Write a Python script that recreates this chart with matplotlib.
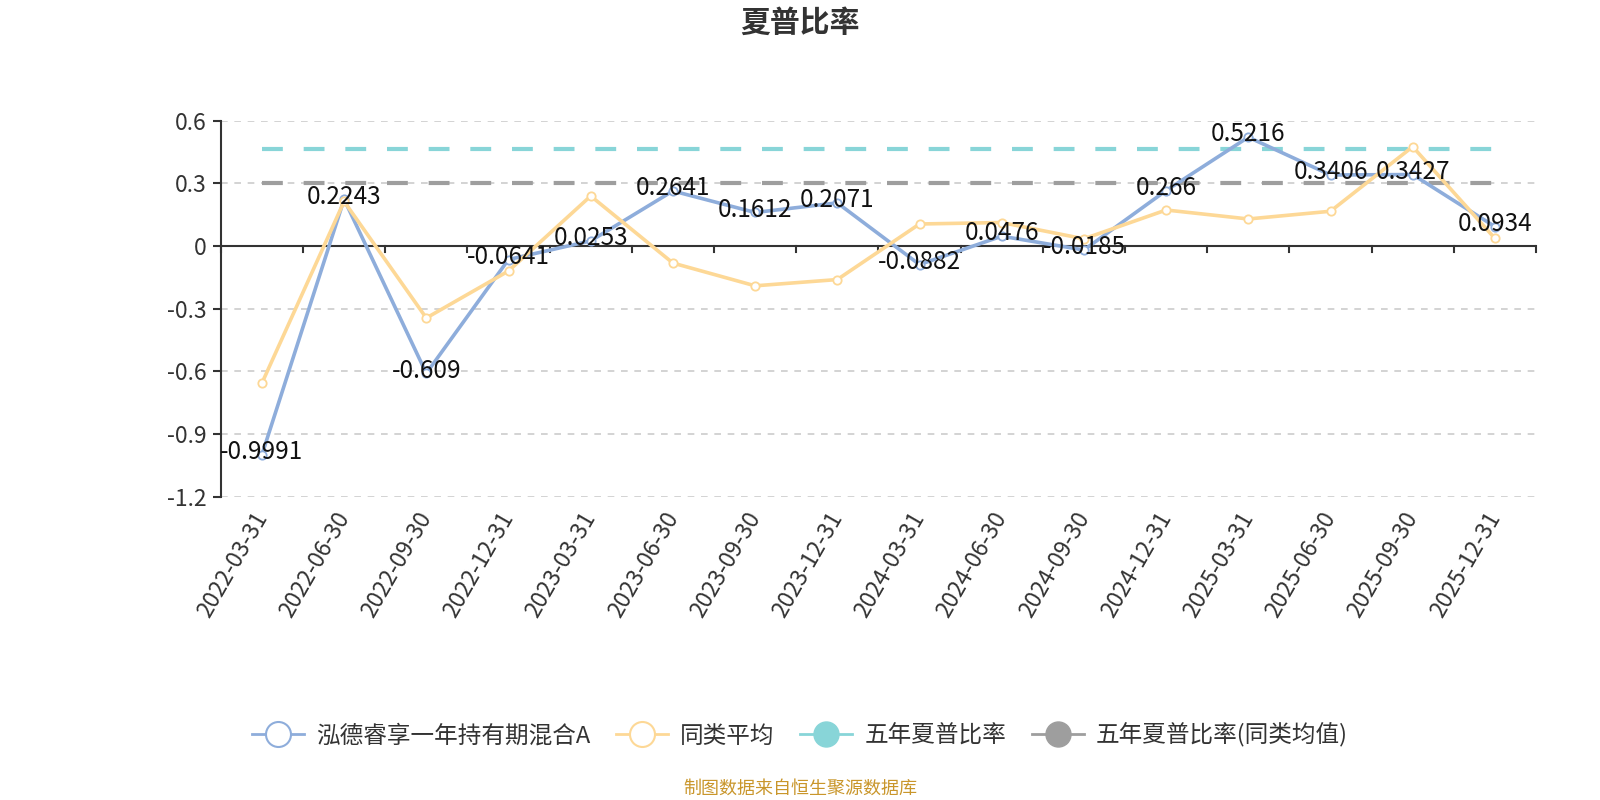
import numpy as np
import matplotlib.pyplot as plt
from matplotlib.lines import Line2D

plt.rcParams['font.family'] = ['Noto Sans CJK SC', 'DejaVu Sans']
plt.rcParams['axes.unicode_minus'] = False

# data
dates = ['2022-03-31', '2022-06-30', '2022-09-30', '2022-12-31',
         '2023-03-31', '2023-06-30', '2023-09-30', '2023-12-31',
         '2024-03-31', '2024-06-30', '2024-09-30', '2024-12-31',
         '2025-03-31', '2025-06-30', '2025-09-30', '2025-12-31']
fund = [-0.9991, 0.2243, -0.609, -0.0641, 0.0253, 0.2641, 0.1612, 0.2071,
        -0.0882, 0.0476, -0.0185, 0.266, 0.5216, 0.3406, 0.3427, 0.0934]
peer_avg = [-0.656, 0.214, -0.344, -0.119, 0.240, -0.081, -0.190, -0.160,
            0.106, 0.113, 0.035, 0.173, 0.130, 0.167, 0.476, 0.037]
five_year = 0.465
five_year_peer = 0.30
yticks = [-1.2, -0.9, -0.6, -0.3, 0, 0.3, 0.6]
ytick_labels = ['-1.2', '-0.9', '-0.6', '-0.3', '0', '0.3', '0.6']

names = ['泓德睿享一年持有期混合A', '同类平均', '五年夏普比率', '五年夏普比率(同类均值)']
c_fund = '#8eaddb'
c_peer = '#fdd896'
c_five = '#88d5d8'
c_five_peer = '#9e9e9e'

fig = plt.figure(figsize=(16, 8), dpi=100)
ax = fig.add_axes([0.138, 0.379, 0.822, 0.470])

x = np.arange(len(dates))
ax.set_xlim(-0.5, len(dates) - 0.5)
ax.set_ylim(-1.2, 0.6)

# grid
for v in yticks:
    if v != 0:
        ax.axhline(v, color='#cccccc', linestyle=(0, (4, 4)), linewidth=1.2, zorder=0)

# five year lines
ax.plot([x[0], x[-1]], [five_year, five_year], color=c_five, linestyle=(0, (5, 5)), linewidth=3, zorder=2)
ax.plot([x[0], x[-1]], [five_year_peer, five_year_peer], color=c_five_peer, linestyle=(0, (5, 5)), linewidth=3, zorder=2)

# zero axis line with boundary ticks
ax.axhline(0, color='#333333', linewidth=1.5, zorder=3)
for b in np.arange(-0.5, len(dates), 1.0):
    ax.plot([b, b], [0, -0.028], color='#333333', linewidth=1.5, zorder=3, clip_on=False)

ax.plot(x, fund, color=c_fund, linewidth=2.6, marker='o', markersize=6,
        markerfacecolor='white', markeredgecolor=c_fund, markeredgewidth=1.3, zorder=4)
ax.plot(x, peer_avg, color=c_peer, linewidth=2.6, marker='o', markersize=6,
        markerfacecolor='white', markeredgecolor=c_peer, markeredgewidth=1.3, zorder=5)

for xi, v in zip(x, fund):
    ax.annotate(f'{v:g}', (xi, v), xytext=(0, 2), textcoords='offset points',
                ha='center', va='center', fontsize=17.5, color='#111111', zorder=6)

# axes styling
for s in ['top', 'right', 'bottom']:
    ax.spines[s].set_visible(False)
ax.spines['left'].set_color('#333333')
ax.spines['left'].set_linewidth(1.5)
ax.set_yticks(yticks)
ax.set_yticklabels(ytick_labels)
ax.tick_params(axis='y', length=6, width=1.5, color='#333333', labelsize=16.5, labelcolor='#333333', pad=4)
ax.set_xticks(x)
ax.set_xticklabels(dates, rotation=60, ha='right', va='center', rotation_mode='anchor')
ax.tick_params(axis='x', length=0, labelsize=16.5, labelcolor='#333333', pad=12)

fig.text(0.5, 0.972, '夏普比率', ha='center', va='center', fontsize=21.5, fontweight='bold', color='#333333')

handles = [
    Line2D([0], [0], color=c_fund, linewidth=2, marker='o', markersize=18,
           markerfacecolor='white', markeredgecolor=c_fund, markeredgewidth=1.5),
    Line2D([0], [0], color=c_peer, linewidth=2, marker='o', markersize=18,
           markerfacecolor='white', markeredgecolor=c_peer, markeredgewidth=1.5),
    Line2D([0], [0], color=c_five, linewidth=2, marker='o', markersize=18,
           markerfacecolor=c_five, markeredgecolor=c_five),
    Line2D([0], [0], color=c_five_peer, linewidth=2, marker='o', markersize=18,
           markerfacecolor=c_five_peer, markeredgecolor=c_five_peer),
]
leg = fig.legend(handles, names, loc='center', bbox_to_anchor=(0.5, 0.081), ncol=4,
                 frameon=False, fontsize=17, handlelength=2.2, columnspacing=1.1,
                 handletextpad=0.5)
for t in leg.get_texts():
    t.set_color('#333333')

fig.text(0.5, 0.014, '制图数据来自恒生聚源数据库', ha='center', va='center', fontsize=13, color='#c9962b')

fig.savefig('out.png', dpi=100)
